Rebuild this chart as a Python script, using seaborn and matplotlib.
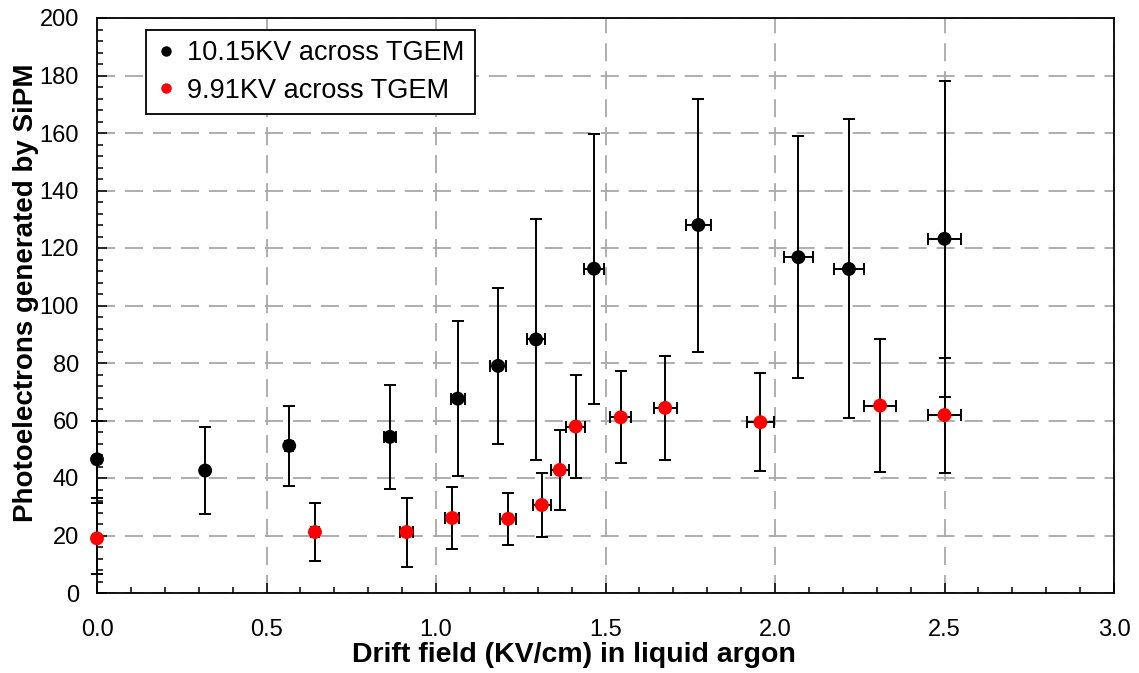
import matplotlib
matplotlib.use("Agg")
import matplotlib.pyplot as plt
from matplotlib.lines import Line2D
from matplotlib.ticker import MultipleLocator
import numpy as np
import pandas as pd
import seaborn as sns

# Measurements: drift field (KV/cm) vs photoelectrons seen by the SiPM
high_label = "10.15KV across TGEM"
high_field = [0.0, 0.319, 0.567, 0.864, 1.064, 1.183, 1.295, 1.466, 1.774, 2.069, 2.218, 2.500]
high_pe = [46.5, 42.6, 51.2, 54.3, 67.6, 79.0, 88.2, 112.8, 128.0, 116.8, 112.7, 123.2]
high_pe_err = [13.3, 15.0, 14.0, 18.0, 27.0, 27.0, 42.0, 47.0, 44.0, 42.0, 52.0, 55.0]
high_field_err = [0.0, 0.006, 0.011, 0.017, 0.021, 0.024, 0.026, 0.029, 0.036, 0.042, 0.045, 0.050]

low_label = "9.91KV across TGEM"
low_field = [0.0, 0.643, 0.913, 1.048, 1.213, 1.312, 1.365, 1.412, 1.545, 1.676, 1.957, 2.310, 2.500]
low_pe = [19.0, 21.2, 21.2, 26.1, 25.8, 30.6, 42.8, 57.9, 61.1, 64.4, 59.4, 65.2, 61.9]
low_pe_err = [12.3, 10.0, 12.0, 10.8, 9.0, 11.0, 14.0, 18.0, 16.0, 18.0, 17.0, 23.0, 20.0]
low_field_err = [0.0, 0.013, 0.018, 0.021, 0.024, 0.026, 0.027, 0.028, 0.031, 0.034, 0.040, 0.046, 0.050]

x_ticks = [0.0, 0.5, 1.0, 1.5, 2.0, 2.5, 3.0]
y_ticks = [0, 20, 40, 60, 80, 100, 120, 140, 160, 180, 200]

colors = {high_label: "#000000", low_label: "#ff0000"}

df = pd.concat([
    pd.DataFrame({"field": high_field, "pe": high_pe, "series": high_label}),
    pd.DataFrame({"field": low_field, "pe": low_pe, "series": low_label}),
], ignore_index=True)

sns.set_style("white")
plt.rcParams["font.family"] = ["Liberation Sans", "DejaVu Sans"]
plt.rcParams["text.color"] = "black"
plt.rcParams["axes.labelcolor"] = "black"
plt.rcParams["xtick.color"] = "black"
plt.rcParams["ytick.color"] = "black"

fig = plt.figure(figsize=(11.39, 6.73), dpi=100)
ax = fig.add_axes([97 / 1139, 80 / 673, 1017 / 1139, 575 / 673])

# error bars (both series drawn in black)
for fx, fy, ey, ex in [(high_field, high_pe, high_pe_err, high_field_err),
                       (low_field, low_pe, low_pe_err, low_field_err)]:
    ax.errorbar(fx, fy, yerr=ey, xerr=ex, fmt="none", ecolor="black",
                elinewidth=1.4, capsize=4, capthick=1.4, zorder=3, clip_on=False)

sns.scatterplot(data=df, x="field", y="pe", hue="series", palette=colors,
                s=100, linewidth=0, legend=False, zorder=4, clip_on=False, ax=ax)

ax.set_xlim(0, 3.0)
ax.set_ylim(0, 200)
ax.set_xticks(x_ticks)
ax.set_xticklabels([f"{v:.1f}" for v in x_ticks])
ax.set_yticks(y_ticks)
ax.xaxis.set_minor_locator(MultipleLocator(0.1))
ax.yaxis.set_minor_locator(MultipleLocator(4))

ax.set_axisbelow(True)
ax.grid(True, which="major", color="#a8a8a8", linestyle=(0, (10, 5.5)), linewidth=1.3)

ax.tick_params(axis="both", which="both", direction="in", bottom=True, left=True,
               top=False, right=False, color="black", width=1.1, labelcolor="black")
ax.tick_params(axis="both", which="major", length=7, labelsize=17)
ax.tick_params(axis="both", which="minor", length=4.5)
ax.tick_params(axis="y", which="major", pad=13)
ax.tick_params(axis="x", which="major", pad=19)

for sp in ax.spines.values():
    sp.set_color("black")
    sp.set_linewidth(1.3)
    sp.set_visible(True)

ax.set_xlabel("Drift field (KV/cm) in liquid argon", fontsize=20.5, fontweight="bold", color="black")
ax.set_ylabel("Photoelectrons generated by SiPM", fontsize=20, fontweight="bold", color="black")
ax.xaxis.set_label_coords(0.469, -0.086)
ax.yaxis.set_label_coords(-0.057, 0.522)

handles = [Line2D([], [], linestyle="none", marker="o", markersize=7.5,
                  markerfacecolor=colors[k], markeredgewidth=0) for k in (high_label, low_label)]
leg = ax.legend(handles, [high_label, low_label], loc="upper left",
                bbox_to_anchor=(0.048, 0.979), borderaxespad=0, fontsize=19.5,
                frameon=True, fancybox=False, framealpha=1, edgecolor="black",
                handlelength=0.7, handletextpad=0.45, borderpad=0.38,
                labelspacing=0.42)
leg.get_frame().set_linewidth(1.3)
for t in leg.get_texts():
    t.set_color("black")

fig.savefig("out.png", dpi=100)
